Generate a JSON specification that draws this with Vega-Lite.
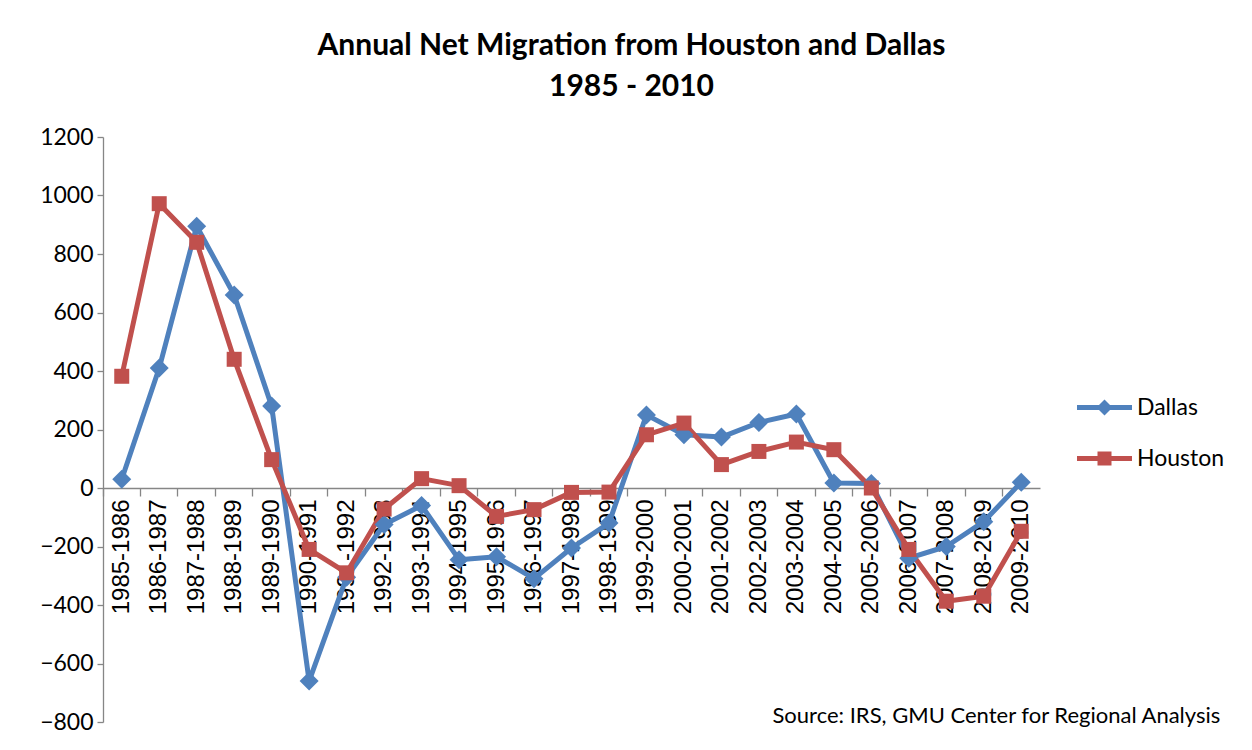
{
  "$schema": "https://vega.github.io/schema/vega-lite/v6.json",
  "autosize": {"type": "none"},
  "width": 937,
  "height": 585,
  "padding": {"left": 103, "top": 137, "right": 212, "bottom": 28},
  "background": "white",
  "config": {
    "view": {"stroke": null},
    "font": "Lato"
  },
  "title": {
    "text": ["Annual Net Migration from Houston and Dallas", "1985 - 2010"],
    "font": "Lato",
    "fontWeight": "bold",
    "fontSize": 30,
    "lineHeight": 41,
    "anchor": "middle",
    "dx": 60,
    "offset": 24,
    "color": "#000000"
  },
  "data": {
    "values": [
      {"period": "1985-1986", "city": "Dallas", "value": 30},
      {"period": "1986-1987", "city": "Dallas", "value": 410},
      {"period": "1987-1988", "city": "Dallas", "value": 895},
      {"period": "1988-1989", "city": "Dallas", "value": 660},
      {"period": "1989-1990", "city": "Dallas", "value": 280},
      {"period": "1990-1991", "city": "Dallas", "value": -660},
      {"period": "1991-1992", "city": "Dallas", "value": -305},
      {"period": "1992-1993", "city": "Dallas", "value": -125},
      {"period": "1993-1994", "city": "Dallas", "value": -60},
      {"period": "1994-1995", "city": "Dallas", "value": -245},
      {"period": "1995-1996", "city": "Dallas", "value": -235},
      {"period": "1996-1997", "city": "Dallas", "value": -310},
      {"period": "1997-1998", "city": "Dallas", "value": -205},
      {"period": "1998-1999", "city": "Dallas", "value": -120},
      {"period": "1999-2000", "city": "Dallas", "value": 250},
      {"period": "2000-2001", "city": "Dallas", "value": 182},
      {"period": "2001-2002", "city": "Dallas", "value": 174},
      {"period": "2002-2003", "city": "Dallas", "value": 224},
      {"period": "2003-2004", "city": "Dallas", "value": 253},
      {"period": "2004-2005", "city": "Dallas", "value": 17},
      {"period": "2005-2006", "city": "Dallas", "value": 15},
      {"period": "2006-2007", "city": "Dallas", "value": -240},
      {"period": "2007-2008", "city": "Dallas", "value": -200},
      {"period": "2008-2009", "city": "Dallas", "value": -115},
      {"period": "2009-2010", "city": "Dallas", "value": 20},
      {"period": "1985-1986", "city": "Houston", "value": 382},
      {"period": "1986-1987", "city": "Houston", "value": 972},
      {"period": "1987-1988", "city": "Houston", "value": 840},
      {"period": "1988-1989", "city": "Houston", "value": 440},
      {"period": "1989-1990", "city": "Houston", "value": 97},
      {"period": "1990-1991", "city": "Houston", "value": -210},
      {"period": "1991-1992", "city": "Houston", "value": -290},
      {"period": "1992-1993", "city": "Houston", "value": -72},
      {"period": "1993-1994", "city": "Houston", "value": 32},
      {"period": "1994-1995", "city": "Houston", "value": 8},
      {"period": "1995-1996", "city": "Houston", "value": -97},
      {"period": "1996-1997", "city": "Houston", "value": -74},
      {"period": "1997-1998", "city": "Houston", "value": -15},
      {"period": "1998-1999", "city": "Houston", "value": -14},
      {"period": "1999-2000", "city": "Houston", "value": 182},
      {"period": "2000-2001", "city": "Houston", "value": 222},
      {"period": "2001-2002", "city": "Houston", "value": 80},
      {"period": "2002-2003", "city": "Houston", "value": 125},
      {"period": "2003-2004", "city": "Houston", "value": 157},
      {"period": "2004-2005", "city": "Houston", "value": 131},
      {"period": "2005-2006", "city": "Houston", "value": 0},
      {"period": "2006-2007", "city": "Houston", "value": -210},
      {"period": "2007-2008", "city": "Houston", "value": -387},
      {"period": "2008-2009", "city": "Houston", "value": -370},
      {"period": "2009-2010", "city": "Houston", "value": -148}
    ]
  },
  "encoding": {
    "x": {
      "field": "period",
      "type": "nominal",
      "sort": null,
      "scale": {"type": "band", "paddingInner": 0, "paddingOuter": 0},
      "axis": {
        "title": null,
        "offset": -234,
        "bandPosition": 0,
        "labelAngle": -90,
        "labelFont": "Liberation Sans",
        "labelFontSize": 24,
        "labelColor": "#000000",
        "labelPadding": 3,
        "tickSize": 8,
        "tickColor": "#868686",
        "tickWidth": 1.3,
        "domainColor": "#868686",
        "domainWidth": 1.3,
        "grid": false,
        "zindex": 0
      }
    },
    "y": {
      "field": "value",
      "type": "quantitative",
      "scale": {"domain": [-800, 1200], "nice": false, "zero": false},
      "axis": {
        "title": null,
        "format": "d",
        "values": [-800, -600, -400, -200, 0, 200, 400, 600, 800, 1000, 1200],
        "labelFont": "Lato",
        "labelFontSize": 23,
        "labelColor": "#000000",
        "labelPadding": 4,
        "tickSize": 6,
        "tickColor": "#868686",
        "tickWidth": 1.3,
        "domainColor": "#868686",
        "domainWidth": 1.3,
        "grid": false
      }
    }
  },
  "layer": [
    {
      "mark": {"type": "line", "strokeWidth": 5, "strokeCap": "round", "strokeJoin": "round"},
      "encoding": {
        "color": {
          "field": "city",
          "type": "nominal",
          "scale": {"domain": ["Dallas", "Houston"], "range": ["#4F81BD", "#C0504D"]},
          "legend": null
        }
      }
    },
    {
      "mark": {"type": "point", "filled": true, "opacity": 1, "strokeWidth": 0},
      "encoding": {
        "color": {
          "field": "city",
          "type": "nominal",
          "scale": {"domain": ["Dallas", "Houston"], "range": ["#4F81BD", "#C0504D"]},
          "legend": null
        },
        "shape": {
          "field": "city",
          "type": "nominal",
          "scale": {"domain": ["Dallas", "Houston"], "range": ["diamond", "square"]},
          "legend": null
        },
        "size": {
          "field": "city",
          "type": "nominal",
          "scale": {"domain": ["Dallas", "Houston"], "range": [361, 225]},
          "legend": null
        }
      }
    },
    {
      "transform": [{"filter": "datum.value > 100000"}],
      "mark": {"type": "point", "filled": true, "opacity": 1, "strokeWidth": 0, "size": 400},
      "encoding": {
        "color": {
          "field": "city",
          "type": "nominal",
          "title": null,
          "scale": {"domain": ["Dallas", "Houston"], "range": ["#4F81BD", "#C0504D"]},
          "legend": {
            "orient": "none",
            "legendX": 990,
            "legendY": 259,
            "padding": 0,
            "labelFont": "Lato",
            "labelFontSize": 23,
            "labelColor": "#000000",
            "labelOffset": 21,
            "rowPadding": 27,
            "symbolSize": 400,
            "symbolStrokeWidth": 0,
            "symbolOpacity": 1
          }
        },
        "shape": {
          "field": "city",
          "type": "nominal",
          "title": null,
          "scale": {
            "domain": ["Dallas", "Houston"],
            "range": [
              "M-2.75,-0.25H2.75V0.25H-2.75Z M0,-0.8L0.8,0L0,0.8L-0.8,0Z",
              "M-2.75,-0.25H2.75V0.25H-2.75Z M-0.7,-0.7H0.7V0.7H-0.7Z"
            ]
          },
          "legend": {
            "orient": "none",
            "legendX": 990,
            "legendY": 259,
            "padding": 0,
            "labelFont": "Lato",
            "labelFontSize": 23,
            "labelColor": "#000000",
            "labelOffset": 21,
            "rowPadding": 27,
            "symbolSize": 400,
            "symbolStrokeWidth": 0,
            "symbolOpacity": 1
          }
        }
      }
    },
    {
      "data": {"values": [{"note": "Source: IRS, GMU Center for Regional Analysis", "period": "2009-2010", "value": -780}]},
      "mark": {"type": "text", "font": "Lato", "fontSize": 22, "align": "right", "baseline": "middle", "dx": 199, "color": "#000000"},
      "encoding": {
        "text": {"field": "note", "type": "nominal"}
      }
    }
  ],
  "resolve": {"scale": {"shape": "independent", "color": "independent", "size": "independent"}}
}
